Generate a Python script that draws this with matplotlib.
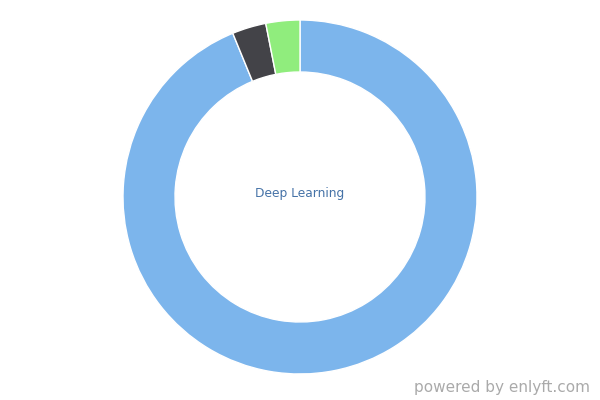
import matplotlib
matplotlib.use("Agg")
import matplotlib.pyplot as plt

labels = ["Deep Learning", "Other A", "Other B"]
values = [93.8, 3.1, 3.1]
colors = ["#7cb5ec", "#434348", "#90ed7d"]

fig = plt.figure(figsize=(6, 4), dpi=100)
ax = fig.add_axes([0, 0, 1, 1])

r = 177.0
ax.pie(values, colors=colors, startangle=90, counterclock=False, radius=1,
       wedgeprops=dict(width=52 / r, edgecolor="white", linewidth=1))
ax.set_aspect("auto")
ax.set_xlim(-300 / r, 300 / r)
ax.set_ylim(-203 / r, 197 / r)
ax.axis("off")

# label sits a few px above the centre, like the original
ax.text(0, 4 / r, labels[0], ha="center", va="center", fontsize=8.8, color="#4572a7")
fig.text(590 / 600, 5 / 400, "powered by enlyft.com", ha="right", va="bottom",
         fontsize=11, color="#aaaaaa")

fig.savefig("out.png", dpi=100)
